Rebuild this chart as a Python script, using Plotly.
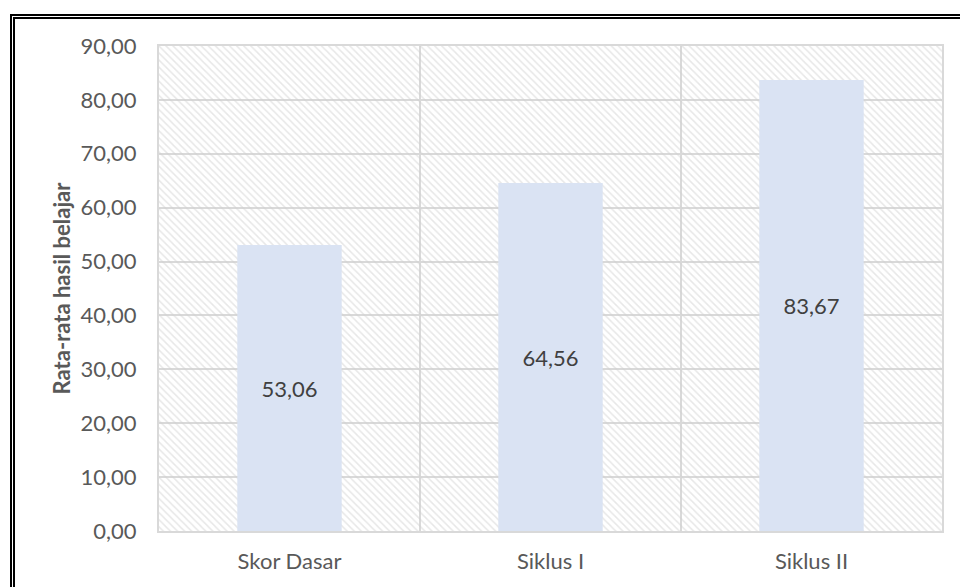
import plotly.graph_objects as go

categories = ["Skor Dasar", "Siklus I", "Siklus II"]
values = [53.06, 64.56, 83.67]
y_title = "Rata-rata hasil belajar"
y_max = 90
y_step = 10

W, H = 960, 587
L, R, T, B = 159, 18, 46, 56
pw, ph = W - L - R, H - T - B

def px_x(px):
    return (px - L) / pw

def px_y(py):
    return (H - B - py) / ph

FONT = "Lato"
GRID = "#d9d9d9"
TXT = "#595959"
FS = 22

fig = go.Figure()
# hatched plot-area background (one full-width band per category)
fig.add_trace(go.Bar(
    x=categories, y=[y_max] * len(categories), width=1,
    marker=dict(color="rgba(0,0,0,0)", line_width=0,
                pattern=dict(shape="\\", fgcolor="#d0d0d0", bgcolor="rgba(0,0,0,0)",
                             size=5, solidity=0.3, fillmode="overlay")),
    hoverinfo="skip", showlegend=False, textposition="none",
))
fig.add_trace(go.Bar(
    x=categories, y=values, width=0.4,
    marker=dict(color="#dae3f3", line_width=0),
    texttemplate="%{y:.2f}", textposition="inside", insidetextanchor="middle",
    textfont=dict(family=FONT, size=FS, color="#404040"),
    showlegend=False,
))

shapes = []
for (lx, ty) in [(11, 15), (14, 18)]:
    shapes.append(dict(type="rect", xref="paper", yref="paper",
                       x0=px_x(lx), x1=px_x(W + 20), y0=px_y(ty), y1=px_y(H + 20),
                       line=dict(color="black", width=2), fillcolor="rgba(0,0,0,0)"))

fig.update_layout(
    width=W, height=H,
    margin=dict(l=L, r=R, t=T, b=B),
    paper_bgcolor="white", plot_bgcolor="white",
    barmode="overlay",
    separators=",.",
    font=dict(family=FONT, size=FS, color=TXT),
    shapes=shapes,
    xaxis=dict(type="category", range=[-0.5, 2.5], tickson="boundaries",
               showgrid=True, gridcolor=GRID, gridwidth=2,
               showline=True, linecolor=GRID, linewidth=2, mirror=True,
               ticks="", ticklabelstandoff=10,
               tickfont=dict(family=FONT, size=FS, color=TXT)),
    yaxis=dict(range=[0, y_max], dtick=y_step, tickformat=".2f",
               showgrid=True, gridcolor=GRID, gridwidth=2, zeroline=False,
               showline=True, linecolor=GRID, linewidth=2, mirror=True,
               ticks="", ticklabelstandoff=16,
               tickfont=dict(family=FONT, size=FS, color=TXT),
               title=dict(text="<b>" + y_title + "</b>", standoff=4,
                          font=dict(family=FONT, size=22, color=TXT))),
)

fig.write_html("out.html")
